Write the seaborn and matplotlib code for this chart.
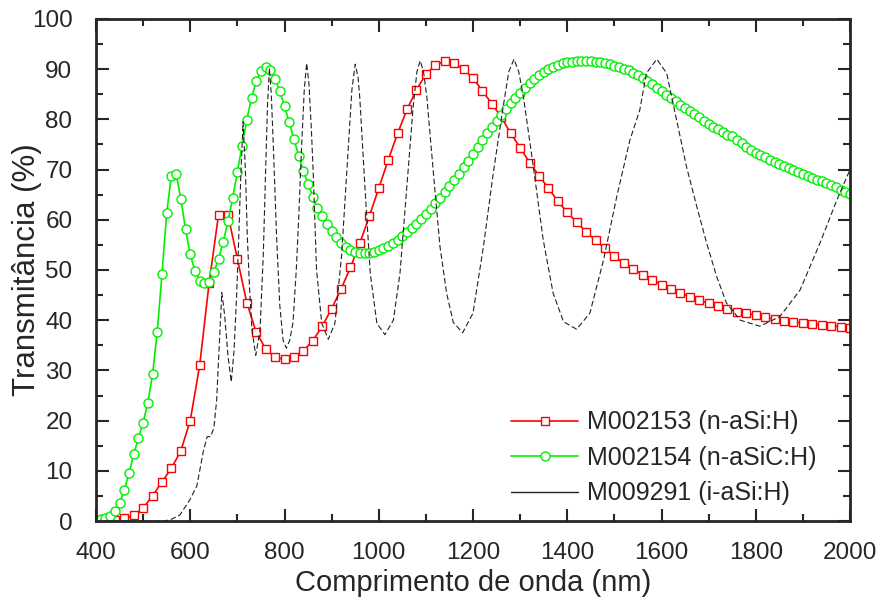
import numpy as np
import pandas as pd
import matplotlib
matplotlib.use("Agg")
import matplotlib.pyplot as plt
import seaborn as sns
from matplotlib.ticker import MultipleLocator

# ---- data ----
red_x = list(range(400, 2001, 20))
red_y = [0, 0, 0.1, 0.5, 1.1, 2.6, 5.0, 7.8, 10.5, 14.0,
         20.0, 31.0, 47.4, 61.0, 61.0, 52.2, 43.5, 37.6, 34.3, 32.6,
         32.2, 32.6, 33.9, 35.9, 38.8, 42.3, 46.2, 50.5, 55.4, 60.7,
         66.3, 71.9, 77.2, 82.0, 85.9, 89.0, 90.8, 91.6, 91.2, 90.0,
         88.2, 85.7, 83.1, 80.5, 77.2, 74.4, 71.4, 68.8, 66.3, 63.7,
         61.5, 59.5, 57.6, 55.9, 54.3, 52.7, 51.3, 50.2, 49.1, 48.1,
         47.1, 46.2, 45.4, 44.7, 44.0, 43.4, 42.8, 42.3, 41.7, 41.4,
         41.0, 40.6, 40.2, 39.9, 39.7, 39.4, 39.2, 39.1, 38.9, 38.7,
         38.5]

green_x = list(range(400, 2001, 10))
green_y = [0, 0.3, 0.5, 1.0, 2.0, 3.5, 6.2, 9.5, 13.3, 16.5,
           19.6, 23.6, 29.2, 37.7, 49.2, 61.4, 68.8, 69.1, 64.2, 58.1,
           53.1, 49.8, 47.9, 47.4, 47.6, 49.6, 52.2, 55.6, 59.7, 64.3,
           69.6, 74.8, 79.9, 84.3, 87.6, 89.7, 90.5, 89.9, 88.1, 85.6,
           82.6, 79.4, 76.1, 72.8, 69.7, 67.2, 64.6, 62.4, 60.7, 59.2,
           57.8, 56.6, 55.4, 54.6, 54.0, 53.6, 53.4, 53.3, 53.4, 53.6,
           53.9, 54.3, 54.8, 55.4, 56.0, 56.7, 57.5, 58.3, 59.2, 60.2,
           61.2, 62.2, 63.3, 64.4, 65.5, 66.7, 67.9, 69.2, 70.5, 71.8,
           73.1, 74.5, 75.9, 77.3, 78.5, 79.7, 80.9, 82.0, 83.2, 84.2,
           85.2, 86.3, 87.3, 88.1, 88.9, 89.5, 90.1, 90.5, 90.9, 91.2,
           91.4, 91.5, 91.6, 91.6, 91.6, 91.6, 91.5, 91.4, 91.2, 91.0,
           90.7, 90.4, 90.1, 89.8, 89.3, 88.8, 88.3, 87.7, 87.0, 86.3,
           85.6, 84.9, 84.3, 83.6, 82.9, 82.3, 81.7, 81.0, 80.4, 79.7,
           79.1, 78.5, 78.0, 77.5, 76.9, 76.6, 75.9, 75.3, 74.6, 74.0,
           73.3, 72.9, 72.5, 72.0, 71.6, 71.2, 70.8, 70.4, 70.0, 69.6,
           69.2, 68.8, 68.4, 68.0, 67.7, 67.3, 66.9, 66.5, 66.0, 65.6,
           65.2]

black_x = [400, 540, 557, 578, 599, 614, 628, 636, 643, 650, 656, 662, 667, 673,
           680, 687, 693, 698, 702, 707, 712, 717, 721, 726, 731, 739, 748, 755,
           760, 764, 768, 772, 777, 783, 790, 797, 804, 811, 818, 825, 830, 836,
           842, 847, 852, 857, 861, 868, 879, 893, 907, 921, 932, 943, 950, 956,
           960, 971, 982, 996, 1013, 1031, 1045, 1059, 1073, 1081, 1088, 1095,
           1102, 1116, 1130, 1144, 1158, 1178, 1200, 1222, 1243, 1264, 1276,
           1287, 1297, 1307, 1328, 1349, 1370, 1392, 1420, 1448, 1477, 1505,
           1533, 1554, 1568, 1590, 1611, 1632, 1653, 1675, 1696, 1717, 1738,
           1767, 1809, 1851, 1894, 1936, 1972, 2000]
black_y = [0, 0, 0.2, 1.2, 4.2, 7.0, 14.0, 16.8, 16.8, 18.5, 24, 36, 45.5, 41,
           33, 27.7, 34, 44, 54, 68, 79.5, 70, 57, 46, 38, 33, 38, 53,
           70, 83, 90.2, 85, 73, 57, 43, 36, 34.4, 36, 39.5, 50, 60, 74,
           86, 91.2, 87, 78, 69.3, 50, 39.4, 36.2, 39.4, 52.7, 69.3, 85.9, 91.0, 88.5,
           84, 66, 49.3, 39.4, 37.1, 40, 49.3, 65.9, 82.5, 89.5, 91.7, 89.5,
           84.5, 69.3, 54.6, 45.4, 39.6, 37.5, 41.4, 54.6, 69.3, 82.5, 89.5,
           92.0, 89.5, 84.5, 70.6, 56.0, 45.4, 39.7, 38.2, 41.4, 52.0, 64.6,
           75.9, 81.9, 89.2, 92.0, 89.2, 79.9, 70.6, 62.6, 55.3, 48.7, 43.4,
           40.0, 38.8, 40.7, 46.0, 55.3, 63.9, 70.0]

labels = ["M002153 (n-aSi:H)", "M002154 (n-aSiC:H)", "M009291 (i-aSi:H)"]
x_ticks = [400, 600, 800, 1000, 1200, 1400, 1600, 1800, 2000]
y_ticks = [0, 10, 20, 30, 40, 50, 60, 70, 80, 90, 100]

# ---- plot ----
sns.set_style("ticks")
plt.rcParams['font.family'] = ['Liberation Sans', 'DejaVu Sans']

fig = plt.figure(figsize=(8.8, 6.05), dpi=100)
ax = fig.add_axes([96/880, 1-521/605, (850-96)/880, (521-19)/605])

df_red = pd.DataFrame({"x": red_x, "y": red_y})
df_green = pd.DataFrame({"x": green_x, "y": green_y})
df_black = pd.DataFrame({"x": black_x, "y": black_y})

sns.lineplot(data=df_red, x="x", y="y", ax=ax, color="#ff0000", lw=1.2,
             marker="s", markersize=6, markerfacecolor="white",
             markeredgecolor="#ff0000", markeredgewidth=1.0, label=labels[0])
sns.lineplot(data=df_green, x="x", y="y", ax=ax, color="#00f000", lw=1.2,
             marker="o", markersize=6.5, markerfacecolor="white",
             markeredgecolor="#00f000", markeredgewidth=1.0, label=labels[1])
sns.lineplot(data=df_black, x="x", y="y", ax=ax, color="#222222", lw=0.8,
             dashes=False, label=labels[2])
ax.lines[-1].set_dashes((5, 2.5))

ax.set_xlim(400, 2000)
ax.set_ylim(0, 100)
ax.set_xticks(x_ticks)
ax.set_yticks(y_ticks)
ax.xaxis.set_minor_locator(MultipleLocator(100))
ax.yaxis.set_minor_locator(MultipleLocator(5))
ax.tick_params(which="both", direction="in", top=True, right=True,
               width=1.5, labelsize=17.5)
ax.tick_params(which="major", length=9)
ax.tick_params(which="minor", length=5)
ax.tick_params(axis="x", which="major", pad=15)
ax.tick_params(axis="y", which="major", pad=17)
for s in ax.spines.values():
    s.set_linewidth(2)
ax.set_xlabel("Comprimento de onda (nm)", fontsize=21, labelpad=4)
ax.set_ylabel("Transmitância (%)", fontsize=22.5)
ax.yaxis.set_label_coords((42 - 96) / 754, 0.5)

leg = ax.legend(loc="lower right", frameon=False, fontsize=18,
                handlelength=2.7, handletextpad=0.35, numpoints=1,
                borderaxespad=0.0, labelspacing=0.46,
                bbox_to_anchor=(0.969, 0.011))
leg.get_lines()[2].set_linestyle("-")
leg.get_lines()[2].set_linewidth(1.0)

fig.savefig("out.png", dpi=100)
